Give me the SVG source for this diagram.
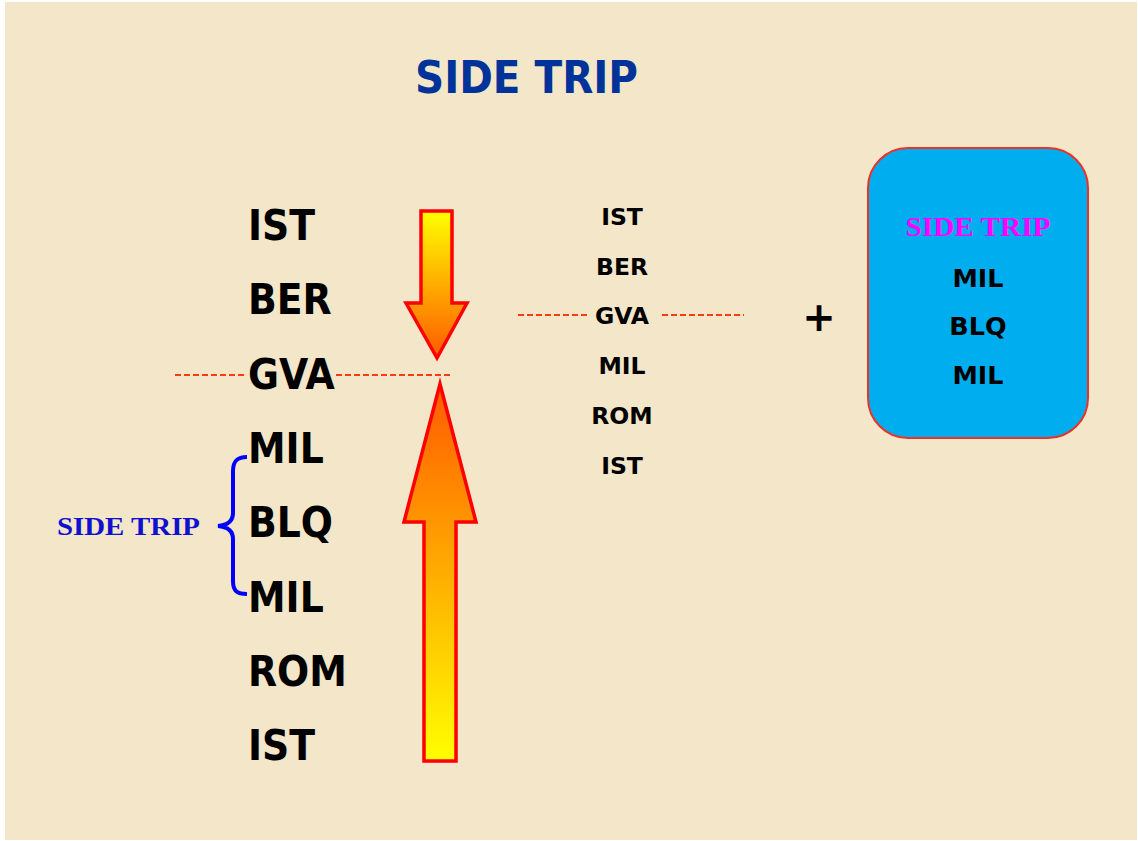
<svg xmlns="http://www.w3.org/2000/svg" width="1138" height="841" viewBox="0 0 1138 841">
<defs>
<linearGradient id="gDown" x1="0" y1="0" x2="0" y2="1"><stop offset="0" stop-color="#FFFF00"/><stop offset="1" stop-color="#FF5A00"/></linearGradient>
<linearGradient id="gUp" x1="0" y1="1" x2="0" y2="0"><stop offset="0" stop-color="#FFFF00"/><stop offset="1" stop-color="#FF5A00"/></linearGradient>
<style>
.big{font-family:"DejaVu Sans Condensed","DejaVu Sans",sans-serif;font-weight:bold;font-size:42px;fill:#000}
.mid{font-family:"DejaVu Sans",sans-serif;font-weight:bold;font-size:23.5px;fill:#000;text-anchor:middle}
.box{font-family:"DejaVu Sans",sans-serif;font-weight:bold;font-size:25.5px;fill:#000;text-anchor:middle}
.ser{font-family:"Liberation Serif",serif;font-weight:bold}
.dash{stroke:#FF3A10;stroke-width:1.8;stroke-dasharray:6 3;fill:none}
.arrow{stroke:#FF0000;stroke-width:3.5;stroke-linejoin:miter}
</style>
</defs>
<rect x="0" y="0" width="1138" height="841" fill="#FFFFFF"/>
<rect x="5" y="2" width="1132" height="838" fill="#F4E6C8"/>
<text x="415" y="93" font-family="DejaVu Sans Condensed, DejaVu Sans, sans-serif" font-weight="bold" font-size="45" fill="#003399" textLength="223" lengthAdjust="spacingAndGlyphs">SIDE TRIP</text>
<g id="connectors">
<line class="dash" x1="175" y1="375" x2="244" y2="375"/>
<line class="dash" x1="336" y1="375" x2="453" y2="375"/>
<line class="dash" x1="518" y1="315" x2="587" y2="315"/>
<line class="dash" x1="662" y1="315" x2="744" y2="315"/>
<path d="M247,457 C237,457 233,461 233,471 L233,513 C233,520 229,525 218,526 C229,527 233,532 233,539 L233,581 C233,591 237,594 247,594" fill="none" stroke="#0000FF" stroke-width="4"/>
</g>
<g id="arrow-down"><polygon class="arrow" fill="url(#gDown)" points="421,211 452,211 452,303 467,303 437,358 406,303 421,303"/></g>
<g id="arrow-up"><polygon class="arrow" fill="url(#gUp)" points="440,384 476,522 456,522 456,761 424,761 424,522 404,522"/></g>
<g id="left-list">
<text class="big" x="248" y="240">IST</text>
<text class="big" x="248" y="314">BER</text>
<text class="big" x="248" y="389">GVA</text>
<text class="big" x="248" y="463">MIL</text>
<text class="big" x="248" y="537">BLQ</text>
<text class="big" x="248" y="612">MIL</text>
<text class="big" x="248" y="686">ROM</text>
<text class="big" x="248" y="760">IST</text>
</g>
<g id="side-trip-label"><text class="ser" x="57" y="535" font-size="25" fill="#1010D0" textLength="143" lengthAdjust="spacingAndGlyphs">SIDE TRIP</text></g>
<g id="middle-list">
<text class="mid" x="622" y="225">IST</text>
<text class="mid" x="622" y="275">BER</text>
<text class="mid" x="622" y="324">GVA</text>
<text class="mid" x="622" y="374">MIL</text>
<text class="mid" x="622" y="424">ROM</text>
<text class="mid" x="622" y="474">IST</text>
</g>
<g id="plus"><text x="819" y="331" font-family="DejaVu Sans, sans-serif" font-weight="bold" font-size="40" text-anchor="middle" fill="#000">+</text></g>
<g id="side-trip-box">
<rect x="868" y="148" width="220" height="290" rx="40" ry="40" fill="#00AEEF" stroke="#E8332A" stroke-width="2"/>
<text class="ser" x="978" y="236" font-size="28" fill="#FF00FF" text-anchor="middle" textLength="145" lengthAdjust="spacingAndGlyphs">SIDE TRIP</text>
<text class="box" x="978" y="287">MIL</text>
<text class="box" x="978" y="335">BLQ</text>
<text class="box" x="978" y="384">MIL</text>
</g>
</svg>
